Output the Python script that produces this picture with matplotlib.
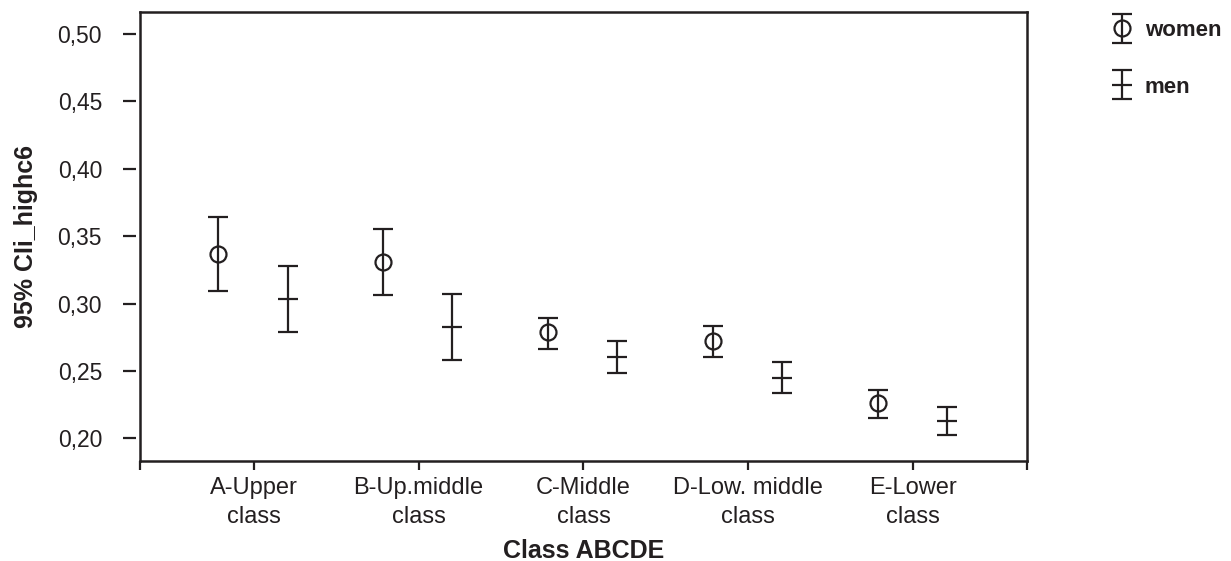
import numpy as np
import matplotlib.pyplot as plt
from matplotlib.container import ErrorbarContainer
from matplotlib.legend_handler import HandlerErrorbar

plt.rcParams['font.family'] = ['Liberation Sans', 'DejaVu Sans']

# class categories and 95% CI of the index per sex
classes = ['A-Upper\nclass', 'B-Up.middle\nclass', 'C-Middle\nclass',
           'D-Low. middle\nclass', 'E-Lower\nclass']
women_mean = [0.337, 0.331, 0.279, 0.2725, 0.226]
women_low = [0.3096, 0.3064, 0.2661, 0.2602, 0.2154]
women_high = [0.3645, 0.3556, 0.2896, 0.2836, 0.2359]
men_mean = [0.3032, 0.2824, 0.2606, 0.2446, 0.2131]
men_low = [0.2787, 0.2582, 0.2487, 0.2335, 0.2025]
men_high = [0.3279, 0.3071, 0.2723, 0.2565, 0.2235]
yticks = [0.20, 0.25, 0.30, 0.35, 0.40, 0.45, 0.50]

ink = '#231f20'
lw = 1.6

fig = plt.figure(figsize=(12.31, 5.61), dpi=100)
ax = fig.add_axes([0.1137, 0.1791, 0.7206, 0.7995])

# y ticks sit slightly apart from the frame (set before the tick labels,
# moving the spine resets them)
ax.spines['left'].set_position(('outward', 2.9))
ax.spines['left'].set_visible(False)
for s in ['top', 'right', 'bottom']:
    ax.spines[s].set_linewidth(lw + 0.2)
    ax.spines[s].set_color(ink)
ax.plot([0, 0], [0, 1], transform=ax.transAxes, color=ink, lw=lw + 0.2,
        clip_on=False, solid_capstyle='projecting')

x = np.arange(len(classes))
wm = np.array(women_mean)
mm = np.array(men_mean)
w_err = [wm - np.array(women_low), np.array(women_high) - wm]
m_err = [mm - np.array(men_low), np.array(men_high) - mm]

ax.errorbar(x - 0.215, wm, yerr=w_err, fmt='o', ms=11.5, mfc='none',
            mec=ink, mew=lw, ecolor=ink, elinewidth=lw, capsize=7.2,
            capthick=lw, color=ink, label='women')
ax.errorbar(x + 0.205, mm, yerr=m_err, fmt='_', ms=14.4, mew=lw,
            ecolor=ink, elinewidth=lw, capsize=7.2, capthick=lw,
            color=ink, label='men')

ax.set_xlim(-0.69, 4.69)
ax.set_ylim(0.1836, 0.5163)

# category ticks plus ticks at both ends of the axis
ax.set_xticks([-0.69] + list(x) + [4.69])
ax.set_xticklabels([''] + classes + [''], fontsize=17, color=ink,
                   linespacing=1.38)
ax.set_yticks(yticks)
ax.set_yticklabels([f'{v:.2f}'.replace('.', ',') for v in yticks],
                   fontsize=16.5, color=ink)

ax.tick_params(axis='x', direction='out', length=6.5, width=lw, color=ink,
               pad=5.5)
ax.tick_params(axis='y', direction='out', length=9.4, width=lw, color=ink,
               pad=15)

ax.set_ylabel('95% CIi_highc6', fontsize=18, fontweight='bold', color=ink)
ax.yaxis.set_label_coords(-0.115, 0.5)
ax.set_xlabel('Class ABCDE', fontsize=18, fontweight='bold', color=ink)
ax.xaxis.set_label_coords(0.5, -0.175)

fig.legend(loc='upper left', bbox_to_anchor=(0.8865, 1.0), frameon=False,
           prop={'size': 16, 'weight': 'bold'}, labelspacing=1.6,
           handlelength=0.95, handletextpad=0.55, labelcolor=ink,
           handler_map={ErrorbarContainer: HandlerErrorbar(xerr_size=0.65)})

fig.savefig('out.png', dpi=100)
